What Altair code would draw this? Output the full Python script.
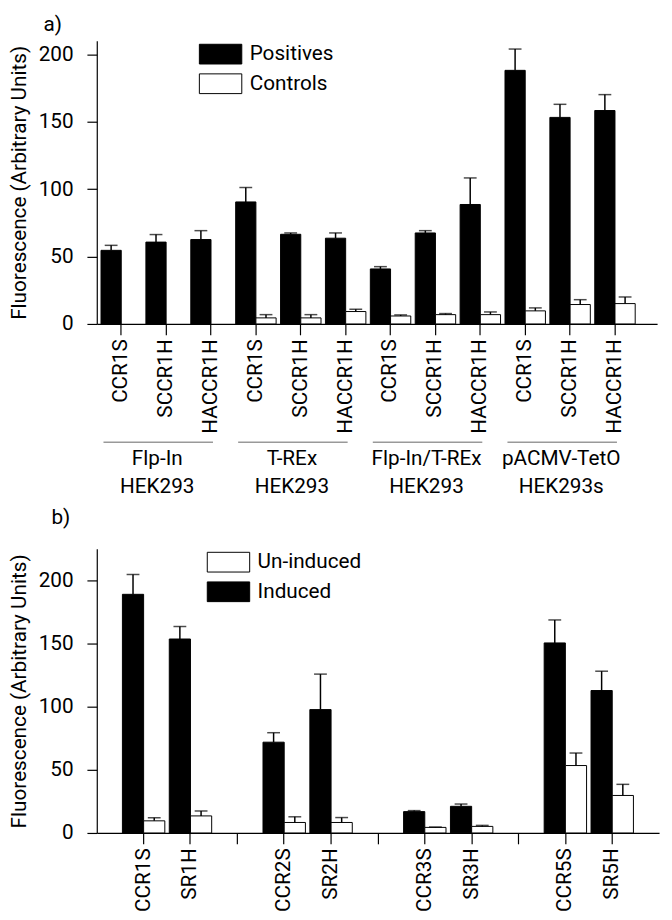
import altair as alt
import pandas as pd

FONT = "Roboto"
FS = 21

# ---------------- panel a data ----------------
group_line1 = ["Flp-In", "T-REx", "Flp-In/T-REx", "pACMV-TetO"]
group_line2 = ["HEK293", "HEK293", "HEK293", "HEK293s"]
constructs_a = ["CCR1S", "SCCR1H", "HACCR1H"]
series_a = ["Positives", "Controls"]
positives = [54.6, 60.7, 62.6, 90.5, 66.5, 63.6, 40.8, 67.5, 88.6, 188.1, 153.2, 158.3]
positives_sd = [3.7, 5.6, 6.6, 10.7, 1.0, 3.9, 1.7, 1.7, 19.7, 15.8, 9.7, 11.8]
controls = [None, None, None, 4.5, 4.5, 9.2, 5.9, 6.9, 6.9, 9.7, 14.4, 15.1]
controls_sd = [None, None, None, 2.4, 2.4, 1.7, 0.8, 0.8, 2.0, 2.2, 3.6, 4.9]

# ---------------- panel b data ----------------
constructs_b = ["CCR1S", "SR1H", "CCR2S", "SR2H", "CCR3S", "SR3H", "CCR5S", "SR5H"]
series_b = ["Un-induced", "Induced"]
induced = [189.0, 153.6, 71.9, 97.7, 16.9, 21.1, 150.5, 112.8]
induced_sd = [15.7, 9.9, 7.5, 28.1, 0.8, 1.8, 18.2, 15.3]
uninduced = [9.6, 13.5, 8.3, 8.3, 4.4, 5.2, 53.4, 29.7]
uninduced_sd = [2.4, 3.9, 4.5, 3.9, 0.3, 0.8, 9.9, 8.8]

# ---------------- tables ----------------
rows_a, keys_a, glines, gtexts = [], [], [], []
for gi in range(len(group_line1)):
    gkeys = []
    for ci, c in enumerate(constructs_a):
        i = gi * len(constructs_a) + ci
        key = f"{gi}|{c}"
        keys_a.append(key)
        gkeys.append(key)
        rows_a.append(dict(key=key, series="Positives", value=positives[i],
                           upper=positives[i] + positives_sd[i]))
        if controls[i] is not None:
            rows_a.append(dict(key=key, series="Controls", value=controls[i],
                               upper=controls[i] + controls_sd[i]))
    glines.append(dict(key=gkeys[0], key2=gkeys[-1]))
    gtexts.append(dict(key=gkeys[1], label=group_line1[gi] + "\n" + group_line2[gi]))
df_a = pd.DataFrame(rows_a)
df_gl = pd.DataFrame(glines)
df_gt = pd.DataFrame(gtexts)

rows_b, keys_b = [], []
for i, c in enumerate(constructs_b):
    keys_b.append(c)
    if i % 2 == 1 and i < len(constructs_b) - 1:
        keys_b.append(" " * (i // 2 + 1))  # spacer between pairs
    rows_b.append(dict(key=c, series="Induced", value=induced[i], upper=induced[i] + induced_sd[i]))
    rows_b.append(dict(key=c, series="Un-induced", value=uninduced[i], upper=uninduced[i] + uninduced_sd[i]))
df_b = pd.DataFrame(rows_b)

# ---------------- shared styles ----------------
W_A, H_A = 568, 287
W_B, H_B = 570, 288
SYMBOL = "M-2.15,-1H2.15V1H-2.15Z"


def y_axis(vals):
    return alt.Axis(values=vals, labelExpr="datum.value % 50 == 0 ? datum.label : ''",
                    title="Fluorescence (Arbitrary Units)", tickSize=10, labelPadding=14,
                    titlePadding=9, domainColor="black", tickColor="black",
                    labelColor="black", titleColor="black", labelFont=FONT, labelFontSize=FS,
                    titleFont=FONT, titleFontSize=FS, titleFontWeight="normal",
                    domainWidth=1.2, tickWidth=1.2)


def x_axis(expr=None):
    kw = dict(title=None, labelAngle=270, labelFont=FONT, labelFontSize=FS, labelColor="black",
              tickSize=11, tickColor="black", domainColor="black", labelPadding=4,
              domainWidth=1.2, tickWidth=1.2)
    if expr:
        kw["labelExpr"] = expr
    return alt.Axis(**kw)


def legend(x, y):
    return alt.Legend(title=None, orient="none", legendX=x, legendY=y, symbolType=SYMBOL,
                      symbolSize=400, symbolStrokeColor="black", symbolStrokeWidth=1,
                      symbolOpacity=1, labelFont=FONT, labelFontSize=FS, labelColor="black",
                      rowPadding=5, labelOffset=19)


# ---------------- panel a ----------------
xa = alt.X("key:N", title=None,
           scale=alt.Scale(domain=keys_a, paddingInner=0.099, paddingOuter=0.291, align=0.162),
           axis=x_axis("split(datum.label, '|')[1]"))
xoa = alt.XOffset("series:N", scale=alt.Scale(domain=series_a, paddingInner=0, paddingOuter=0))
ya = alt.Y("value:Q", scale=alt.Scale(domain=[0, 210], nice=False),
           axis=y_axis(list(range(0, 201, 25))))

base_a = alt.Chart(df_a)
bars_a = base_a.mark_bar(stroke="black", strokeWidth=1).encode(
    x=xa, xOffset=xoa, y=ya,
    color=alt.Color("series:N", scale=alt.Scale(domain=series_a, range=["black", "white"]),
                    legend=legend(115, 3)))
err_a = base_a.mark_rule(color="black", strokeWidth=1.5).encode(
    x=xa, xOffset=xoa, y="value:Q", y2="upper:Q")
cap_a = base_a.mark_tick(color="black", thickness=1.5, size=13).encode(
    x=xa, xOffset=xoa, y="upper:Q")
gline = alt.Chart(df_gl).mark_rule(color="#999999", strokeWidth=1.5, xOffset=-18, x2Offset=2).encode(
    x=xa, x2="key2:N", y=alt.value(H_A + 120))
gtext = alt.Chart(df_gt).mark_text(font=FONT, fontSize=FS, lineBreak="\n", lineHeight=28,
                                   baseline="top", align="center", dx=-9, color="black").encode(
    x=xa, y=alt.value(H_A + 126), text="label:N")

panel_a = alt.layer(bars_a, err_a, cap_a, gline, gtext).properties(
    width=W_A, height=H_A,
    title=alt.Title("a)", anchor="start", font=FONT, fontSize=FS, fontWeight="normal",
                    color="black", dx=-54, offset=6, frame="group"))

# ---------------- panel b ----------------
xb = alt.X("key:N", title=None,
           scale=alt.Scale(domain=keys_b, paddingInner=0.095, paddingOuter=0.547, align=0.5),
           axis=x_axis())
xob = alt.XOffset("series:N",
                  scale=alt.Scale(domain=["Induced", "Un-induced"], paddingInner=0, paddingOuter=0))
yb = alt.Y("value:Q", scale=alt.Scale(domain=[0, 225], nice=False),
           axis=y_axis(list(range(0, 226, 25))))
base_b = alt.Chart(df_b)
bars_b = base_b.mark_bar(stroke="black", strokeWidth=1).encode(
    x=xb, xOffset=xob, y=yb,
    color=alt.Color("series:N", scale=alt.Scale(domain=series_b, range=["white", "black"]),
                    legend=legend(123, 3)))
err_b = base_b.mark_rule(color="black", strokeWidth=1.5).encode(
    x=xb, xOffset=xob, y="value:Q", y2="upper:Q")
cap_b = base_b.mark_tick(color="black", thickness=1.5, size=13).encode(
    x=xb, xOffset=xob, y="upper:Q")
panel_b = alt.layer(bars_b, err_b, cap_b).properties(
    width=W_B, height=H_B,
    title=alt.Title("b)", anchor="start", font=FONT, fontSize=FS, fontWeight="normal",
                    color="black", dx=-46, offset=21, frame="group"))

chart = alt.vconcat(panel_a, panel_b, spacing=11).resolve_scale(
    x="independent", y="independent", color="independent", xOffset="independent"
).configure_view(stroke=None).configure_axis(grid=False).properties(
    padding={"left": 0, "top": 0, "right": 5, "bottom": 5})

chart.save("out.html", embed_options={"renderer": "svg", "actions": False})
